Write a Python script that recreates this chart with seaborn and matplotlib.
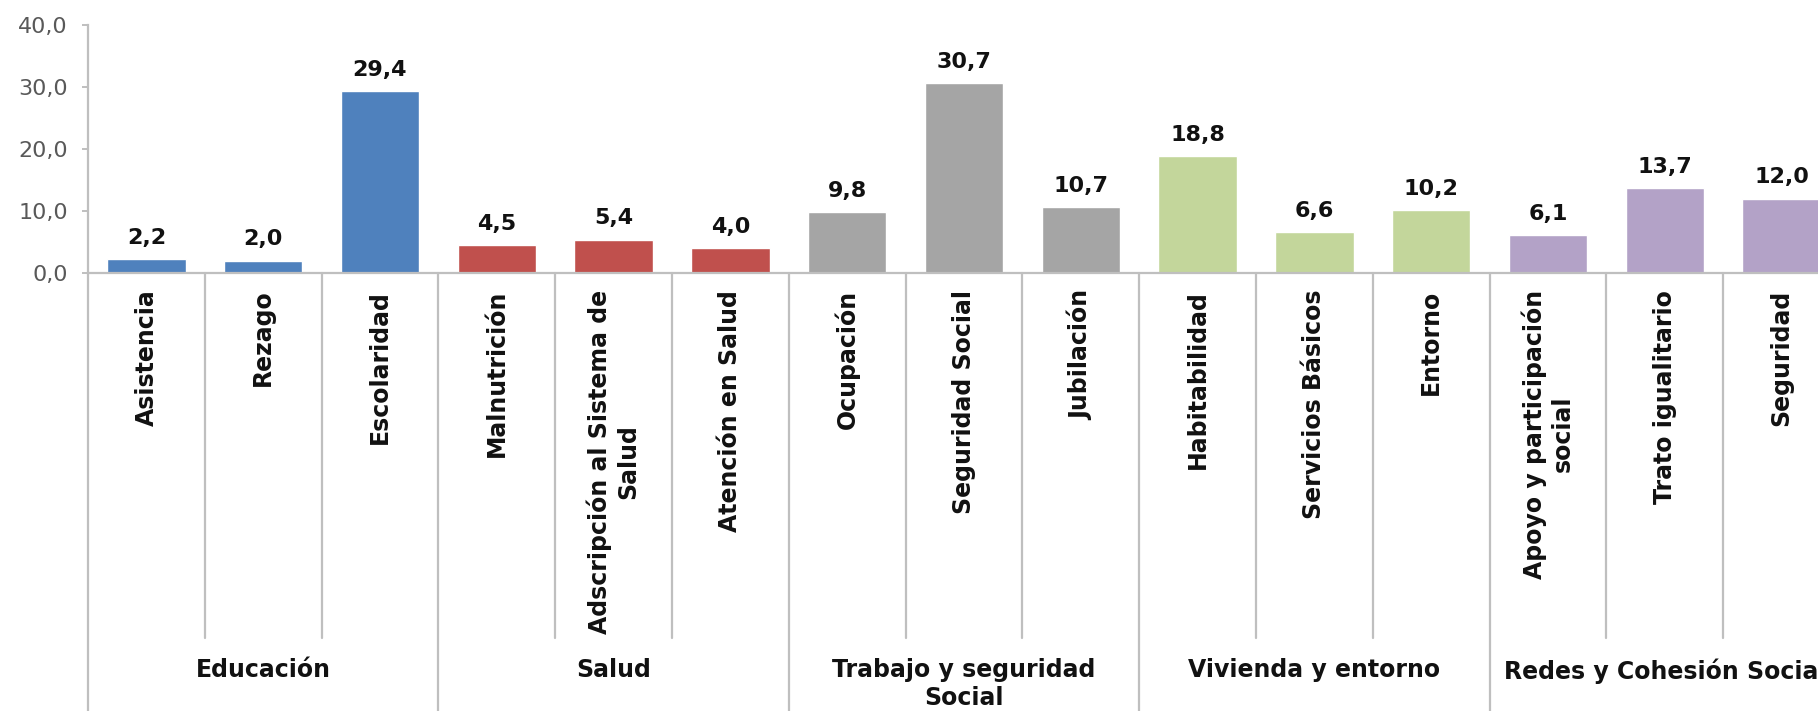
import matplotlib
matplotlib.use("Agg")
import matplotlib.pyplot as plt
import seaborn as sns
import pandas as pd

categories = ["Asistencia", "Rezago", "Escolaridad",
              "Malnutrición", "Adscripción al Sistema de\nSalud", "Atención en Salud",
              "Ocupación", "Seguridad Social", "Jubilación",
              "Habitabilidad", "Servicios Básicos", "Entorno",
              "Apoyo y participación\nsocial", "Trato igualitario", "Seguridad"]
values = [2.2, 2.0, 29.4, 4.5, 5.4, 4.0, 9.8, 30.7, 10.7, 18.8, 6.6, 10.2, 6.1, 13.7, 12.0]
value_labels = ["2,2", "2,0", "29,4", "4,5", "5,4", "4,0", "9,8", "30,7", "10,7",
                "18,8", "6,6", "10,2", "6,1", "13,7", "12,0"]
groups = ["Educación"] * 3 + ["Salud"] * 3 + ["Trabajo y seguridad\nSocial"] * 3 + \
         ["Vivienda y entorno"] * 3 + ["Redes y Cohesión Social"] * 3
group_names = ["Educación", "Salud", "Trabajo y seguridad\nSocial",
               "Vivienda y entorno", "Redes y Cohesión Social"]
group_colors = ["#4F81BD", "#C0504D", "#A5A5A5", "#C3D69B", "#B3A2C7"]
yticks = [0, 10, 20, 30, 40]
ytick_labels = ["0,0", "10,0", "20,0", "30,0", "40,0"]

df = pd.DataFrame({"cat": categories, "val": values, "grp": groups})

sns.set_style("white")
plt.rcParams["font.family"] = ["DejaVu Sans"]

W, H = 1818, 711
fig = plt.figure(figsize=(W / 100, H / 100), dpi=100)
x0, y0, slot = 88, 273, 116.8
ax_h_px = 273 - 25
ax = fig.add_axes([x0 / W, (H - y0) / H, 15 * slot / W, ax_h_px / H])

sns.barplot(data=df, x="cat", y="val", hue="grp", order=categories,
            hue_order=group_names, palette=dict(zip(group_names, group_colors)),
            dodge=False, width=0.67, legend=False, ax=ax, saturation=1)

ax.set_xlim(-0.5, 14.5)
ax.set_ylim(0, 40)
ax.set_xlabel("")
ax.set_ylabel("")

line_color = "#BFBFBF"
for s in ["top", "right"]:
    ax.spines[s].set_visible(False)
for s in ["left", "bottom"]:
    ax.spines[s].set_color(line_color)
    ax.spines[s].set_linewidth(1.6)

ax.set_yticks(yticks)
ax.set_yticklabels(ytick_labels, fontsize=16, color="#595959")
ax.tick_params(axis="y", length=4.5, width=1.4, color=line_color, pad=10, left=True)

ax.set_xticks(range(len(categories)))
ax.set_xticklabels(categories, rotation=90, va="top", ha="center",
                   multialignment="center", fontsize=17, fontweight="bold",
                   color="#111111")
ax.tick_params(axis="x", length=0, pad=12)

for i, (v, lab) in enumerate(zip(values, value_labels)):
    ax.annotate(lab, (i, v), xytext=(0, 8), textcoords="offset points",
                ha="center", va="bottom", fontsize=16, fontweight="bold",
                color="#111111")

trans = ax.get_xaxis_transform()
inner_end = -(638 - y0) / ax_h_px
for k in range(16):
    xb = k - 0.5
    if k % 3 == 0:
        ax.plot([xb, xb], [0, -2.2], transform=trans, color=line_color,
                lw=1.6, clip_on=False)
    else:
        ax.plot([xb, xb], [0, inner_end], transform=trans, color=line_color,
                lw=1.6, clip_on=False)

grp_top = -(658 - y0) / ax_h_px
for g, name in enumerate(group_names):
    ax.text(3 * g + 1, grp_top, name, transform=trans, ha="center", va="top",
            multialignment="center", fontsize=17, fontweight="bold",
            color="#111111", clip_on=False)

fig.savefig("out.png", dpi=100)
